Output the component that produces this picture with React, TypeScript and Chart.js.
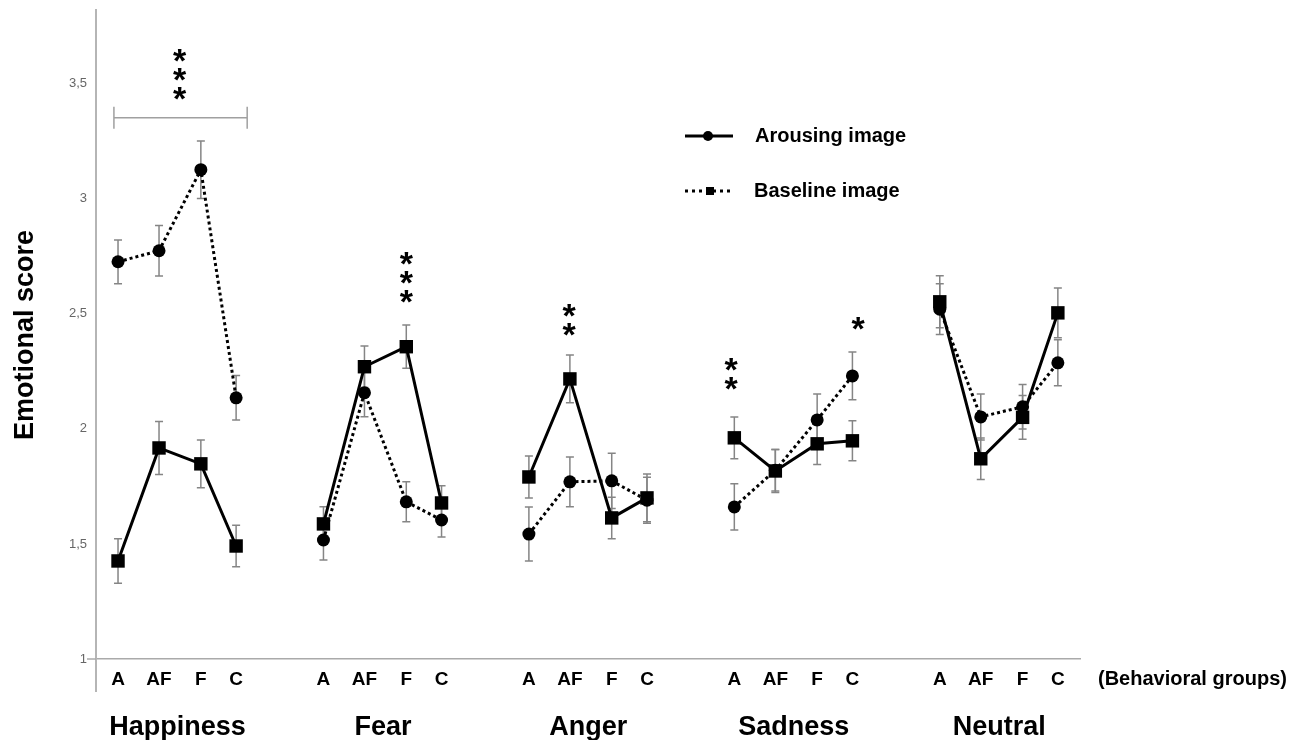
import React, { useEffect, useRef } from "react";
import { Chart, registerables } from "chart.js";

Chart.register(...registerables);

// ---- data ----
const emotions = ["Happiness", "Fear", "Anger", "Sadness", "Neutral"];
const behavioralGroups = ["A", "AF", "F", "C"];
// position of each behavioural group inside an emotion block (x units)
const behaviorOffsets = [0, 1, 2.02, 2.88];

// circle markers (dotted line in the plot)
const arousingMeans = [
  2.726, 2.774, 3.126, 2.135,
  1.517, 2.157, 1.683, 1.604,
  1.543, 1.77, 1.774, 1.69,
  1.661, 1.82, 2.039, 2.23,
  2.52, 2.052, 2.096, 2.287,
];
const arousingErrors = [
  0.095, 0.11, 0.125, 0.097,
  0.087, 0.104, 0.087, 0.074,
  0.117, 0.108, 0.12, 0.1,
  0.1, 0.09, 0.113, 0.104,
  0.11, 0.1, 0.097, 0.1,
];
// square markers (solid line in the plot)
const baselineMeans = [
  1.426, 1.917, 1.848, 1.491,
  1.587, 2.27, 2.357, 1.678,
  1.791, 2.217, 1.613, 1.7,
  1.961, 1.817, 1.935, 1.948,
  2.552, 1.87, 2.05, 2.504,
];
const baselineErrors = [
  0.097, 0.115, 0.104, 0.09,
  0.075, 0.09, 0.094, 0.075,
  0.091, 0.104, 0.09, 0.104,
  0.091, 0.093, 0.09, 0.087,
  0.113, 0.09, 0.095, 0.108,
];
const yTickValues = [1, 1.5, 2, 2.5, 3, 3.5];

// significance stars: emotion index, position inside block, count, value of lowest star
const sigEmotion = [0, 1, 2, 3, 3];
const sigPosition = [1.5, 2.02, 0.98, -0.08, 3.02];
const sigCount = [3, 3, 2, 2, 1];
const sigValue = [3.46, 2.578, 2.435, 2.2, 2.46];

const GROUP_STRIDE = 5.01;
const FONT = "'Liberation Sans', Arial, Helvetica, sans-serif";

const slotOf = (i: number) => Math.floor(i / 4) * GROUP_STRIDE + behaviorOffsets[i % 4];
const slots = arousingMeans.map((_, i) => slotOf(i));

function buildSeries(values: number[]) {
  const pts: { x: number; y: number | null }[] = [];
  values.forEach((v, i) => {
    pts.push({ x: slotOf(i), y: v });
    if (i % 4 === 3 && i < values.length - 1) pts.push({ x: slotOf(i) + 1, y: null });
  });
  return pts;
}

const overlayPlugin = {
  id: "overlay",
  beforeDatasetsDraw(chart: any) {
    const { ctx, scales } = chart;
    const x = scales.x;
    const y = scales.y;
    ctx.save();
    ctx.strokeStyle = "#858585";
    ctx.lineWidth = 1.5;
    const drawErr = (means: number[], errs: number[]) => {
      means.forEach((m, i) => {
        const px = x.getPixelForValue(slotOf(i));
        const top = y.getPixelForValue(m + errs[i]);
        const bot = y.getPixelForValue(m - errs[i]);
        ctx.beginPath();
        ctx.moveTo(px, top);
        ctx.lineTo(px, bot);
        ctx.moveTo(px - 4, top);
        ctx.lineTo(px + 4, top);
        ctx.moveTo(px - 4, bot);
        ctx.lineTo(px + 4, bot);
        ctx.stroke();
      });
    };
    drawErr(arousingMeans, arousingErrors);
    drawErr(baselineMeans, baselineErrors);
    ctx.restore();
  },
  afterDraw(chart: any) {
    const { ctx, scales, chartArea } = chart;
    const x = scales.x;
    const y = scales.y;
    ctx.save();

    // axis extensions
    ctx.strokeStyle = "#b5b5b5";
    ctx.lineWidth = 2;
    ctx.beginPath();
    ctx.moveTo(chartArea.left, chartArea.bottom);
    ctx.lineTo(chartArea.left, chartArea.bottom + 33);
    ctx.stroke();
    ctx.strokeStyle = "#aaaaaa";
    ctx.lineWidth = 1.5;
    ctx.beginPath();
    ctx.moveTo(chartArea.left - 9, chartArea.bottom);
    ctx.lineTo(chartArea.left, chartArea.bottom);
    ctx.stroke();

    // bracket over Happiness
    const bx1 = x.getPixelForValue(-0.1);
    const bx2 = x.getPixelForValue(3.15);
    const by = y.getPixelForValue(3.352);
    ctx.strokeStyle = "#a0a0a0";
    ctx.lineWidth = 1.5;
    ctx.beginPath();
    ctx.moveTo(bx1, by);
    ctx.lineTo(bx2, by);
    ctx.moveTo(bx1, by - 11);
    ctx.lineTo(bx1, by + 11);
    ctx.moveTo(bx2, by - 11);
    ctx.lineTo(bx2, by + 11);
    ctx.stroke();

    // significance stars
    ctx.fillStyle = "#000";
    ctx.font = `bold 34px ${FONT}`;
    ctx.textAlign = "center";
    ctx.textBaseline = "alphabetic";
    sigEmotion.forEach((g, k) => {
      const px = x.getPixelForValue(g * GROUP_STRIDE + sigPosition[k]);
      const py0 = y.getPixelForValue(sigValue[k]);
      for (let s = 0; s < sigCount[k]; s++) {
        const cy = py0 - s * 19;
        ctx.fillText("*", px, cy + 17);
      }
    });

    // emotion group names
    ctx.font = `bold 27px ${FONT}`;
    emotions.forEach((name, g) => {
      const px = x.getPixelForValue(g * GROUP_STRIDE + 1.45);
      ctx.fillText(name, px, 735);
    });

    // "(Behavioral groups)"
    ctx.font = `bold 20px ${FONT}`;
    ctx.textAlign = "left";
    ctx.textBaseline = "middle";
    ctx.fillText("(Behavioral groups)", chartArea.right + 18, 679);

    // y title
    ctx.save();
    ctx.translate(33, 335);
    ctx.rotate(-Math.PI / 2);
    ctx.textAlign = "center";
    ctx.textBaseline = "alphabetic";
    ctx.font = `bold 27px ${FONT}`;
    ctx.fillText("Emotional score", 0, 0);
    ctx.restore();

    // legend
    const lx1 = 685;
    const lx2 = 733;
    const ly1 = 136;
    const ly2 = 191;
    ctx.strokeStyle = "#000";
    ctx.lineWidth = 3;
    ctx.beginPath();
    ctx.moveTo(lx1, ly1);
    ctx.lineTo(lx2, ly1);
    ctx.stroke();
    ctx.beginPath();
    ctx.arc(708, ly1, 5, 0, Math.PI * 2);
    ctx.fill();
    ctx.setLineDash([3, 4]);
    ctx.beginPath();
    ctx.moveTo(lx1, ly2);
    ctx.lineTo(lx2 - 2, ly2);
    ctx.stroke();
    ctx.setLineDash([]);
    ctx.fillRect(706, ly2 - 4, 8, 8);
    ctx.font = `bold 20px ${FONT}`;
    ctx.textAlign = "left";
    ctx.textBaseline = "middle";
    ctx.fillText("Arousing image", 755, ly1);
    ctx.fillText("Baseline image", 754, ly2);

    ctx.restore();
  },
};

export default function App() {
  const canvasRef = useRef<HTMLCanvasElement | null>(null);

  useEffect(() => {
    if (!canvasRef.current) return;
    const chart = new Chart(canvasRef.current, {
      type: "line",
      data: {
        datasets: [
          {
            label: "Baseline image",
            data: buildSeries(baselineMeans) as any,
            borderColor: "#000",
            backgroundColor: "#000",
            borderWidth: 3,
            pointStyle: "rect",
            pointRadius: 9.5,
            pointBorderWidth: 0,
            spanGaps: false,
            tension: 0,
          },
          {
            label: "Arousing image",
            data: buildSeries(arousingMeans) as any,
            borderColor: "#000",
            backgroundColor: "#000",
            borderWidth: 3,
            borderDash: [3, 3],
            pointStyle: "circle",
            pointRadius: 6.5,
            pointBorderWidth: 0,
            spanGaps: false,
            tension: 0,
          },
        ],
      },
      options: {
        animation: false,
        responsive: false,
        parsing: false as any,
        normalized: true,
        layout: { padding: { top: 10, right: 226, left: 0, bottom: 0 } },
        plugins: { legend: { display: false }, tooltip: { enabled: false } },
        scales: {
          x: {
            type: "linear",
            min: -0.537,
            max: 23.46,
            afterBuildTicks: (s: any) => {
              s.ticks = slots.map((v) => ({ value: v }));
            },
            afterFit: (s: any) => {
              s.height = 81;
              s.paddingLeft = 0;
              s.paddingRight = 0;
            },
            ticks: {
              autoSkip: false,
              maxRotation: 0,
              minRotation: 0,
              padding: 9,
              color: "#000",
              font: { family: FONT, size: 19, weight: "bold" },
              callback: (_v: any, i: number) => behavioralGroups[i % 4],
            },
            grid: { display: false, drawTicks: false },
            border: { color: "#aaaaaa", width: 1.5 },
          },
          y: {
            min: 1,
            max: 3.82,
            afterBuildTicks: (s: any) => {
              s.ticks = yTickValues.map((v) => ({ value: v }));
            },
            afterFit: (s: any) => {
              s.width = 96;
              s.paddingTop = 0;
              s.paddingBottom = 0;
            },
            ticks: {
              padding: 9,
              color: "#666",
              font: { family: FONT, size: 13 },
              callback: (v: any) => String(v).replace(".", ","),
            },
            grid: { display: false, drawTicks: false },
            border: { color: "#b5b5b5", width: 2 },
          },
        },
      } as any,
      plugins: [overlayPlugin],
    });
    return () => chart.destroy();
  }, []);

  return (
    <div style={{ position: "absolute", left: 0, top: 0, width: 1306, height: 740, background: "#fff" }}>
      <canvas ref={canvasRef} width={1306} height={740} />
    </div>
  );
}
